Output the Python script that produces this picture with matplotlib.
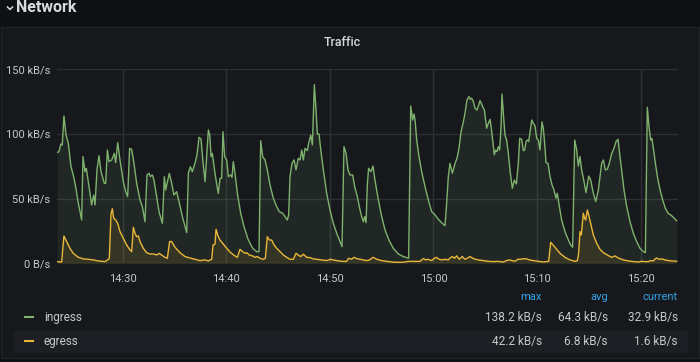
import pandas as pd
import matplotlib
matplotlib.use("Agg")
import matplotlib.pyplot as plt
import matplotlib.dates as mdates
from matplotlib.patches import Rectangle
from matplotlib.lines import Line2D

plt.rcParams['font.family'] = ['Roboto', 'DejaVu Sans']

# minutes after 14:20 and kB/s
start = pd.Timestamp('2021-01-01 14:20:00')

ingress_min = [
    3.66, 3.85, 4.04, 4.17, 4.33, 4.53, 4.75, 5.01, 5.23, 5.46, 5.72, 6.04, 6.17, 6.36, 6.49,
    6.68, 7.00, 7.20, 7.33, 7.52, 7.71, 7.91, 8.23, 8.36, 8.52, 8.68, 8.94, 9.19, 9.32, 9.52,
    9.74, 10.06, 10.29, 10.48, 10.67, 10.87, 11.09, 11.35, 11.67, 11.90, 12.15, 12.35, 12.54,
    12.67, 12.86, 13.02, 13.28, 13.51, 13.83, 14.02, 14.15, 14.25, 14.50, 14.73, 14.95, 15.21,
    15.44, 15.76, 16.02, 16.18, 16.34, 16.53, 16.72, 16.98, 17.17, 17.37, 17.56, 17.75, 17.95,
    18.14, 18.27, 18.40, 18.53, 18.65, 18.82, 18.91, 19.14, 19.23, 19.39, 19.55, 19.68, 19.84,
    20.04, 20.20, 20.42, 20.55, 20.68, 20.84, 21.07, 21.39, 21.71, 22.13, 22.55, 22.93, 23.16,
    23.32, 23.51, 23.74, 23.96, 24.22, 24.54, 24.86, 25.12, 25.44, 25.67, 25.89, 26.02, 26.15,
    26.34, 26.54, 26.73, 26.95, 27.12, 27.28, 27.44, 27.60, 27.82, 27.95, 28.15, 28.31, 28.50,
    28.66, 28.79, 28.95, 29.14, 29.37, 29.69, 30.01, 30.33, 30.66, 30.98, 31.17, 31.36, 31.56,
    31.75, 31.94, 32.20, 32.39, 32.65, 32.91, 33.07, 33.23, 33.36, 33.49, 33.62, 33.74, 33.97,
    34.16, 34.35, 34.68, 35.00, 35.32, 35.70, 36.12, 36.61, 37.09, 37.60, 37.80, 37.99, 38.12,
    38.22, 38.38, 38.60, 38.86, 39.18, 39.50, 39.82, 40.08, 40.47, 40.85, 41.11, 41.27, 41.43,
    41.59, 41.82, 42.08, 42.27, 42.46, 42.66, 42.85, 43.04, 43.23, 43.43, 43.56, 43.69, 43.85,
    44.01, 44.20, 44.33, 44.49, 44.72, 44.91, 45.13, 45.29, 45.46, 45.62, 45.75, 45.87, 46.00,
    46.13, 46.26, 46.39, 46.52, 46.61, 46.74, 46.90, 47.06, 47.22, 47.42, 47.61, 47.80, 48.00,
    48.19, 48.32, 48.51, 48.67, 48.80, 48.93, 49.06, 49.19, 49.32, 49.48, 49.64, 49.80, 49.96,
    50.12, 50.28, 50.47, 50.60, 50.73, 50.86, 51.05, 51.25, 51.44, 51.63, 51.83, 51.95, 52.15,
    52.37, 52.69, 53.02, 53.24, 53.43, 53.63, 53.82, 53.98, 54.14, 54.30, 54.53, 54.72, 54.98,
    55.17, 55.43, 55.66, 55.91, 56.07, 56.23, 56.40, 56.59, 56.78, 56.97, 57.20, 57.42, 57.62,
    57.81, 58.00, 58.20, 58.39, 58.65, 58.97, 59.29, 59.61, 59.93, 60.26, 60.45, 60.64, 60.80,
    60.96, 61.09, 61.22, 61.42, 61.61, 61.87, 62.12, 62.38, 62.64, 62.90, 63.15, 63.47,
]
ingress_kbs = [
    85.6, 86.3, 92.3, 91.5, 113.9, 99.2, 92.8, 74.7, 68.3, 59.3, 46.4, 33.5, 82.5, 70.9, 73.4,
    63.1, 45.1, 52.8, 45.1, 72.2, 83.2, 70.9, 61.8, 61.8, 87.6, 78.6, 79.9, 85.0, 77.8, 93.3,
    79.9, 63.1, 55.4, 51.5, 88.9, 88.1, 77.3, 61.8, 49.0, 43.8, 32.2, 68.3, 69.6,
    67.0, 68.3, 64.4, 51.5, 39.9, 30.9, 67.0, 56.7, 60.6, 69.6, 61.8, 52.8, 55.4,
    47.7, 36.1, 28.3, 23.7, 69.6, 74.7, 70.9, 77.3, 83.8, 97.4, 96.1, 78.6, 63.1,
    87.6, 103.1, 99.2, 82.5, 85.0, 74.7, 69.6, 58.0, 54.1, 65.7, 65.7, 101.8, 82.5,
    79.9, 67.0, 68.3, 66.5, 78.6, 69.6, 54.1, 38.7, 28.3, 18.0, 11.6, 9.0, 9.0,
    94.8, 82.5, 79.9, 72.2, 60.6, 50.3, 43.8, 39.9, 38.7, 36.1, 33.5, 37.4, 67.0,
    77.3, 79.9, 72.2, 81.2, 79.9, 87.6, 79.9, 88.9, 87.1, 92.8, 99.2, 91.5, 138.2,
    118.5, 100.0, 100.0, 86.3, 72.2, 54.1, 41.2, 30.9, 23.2, 16.8, 12.9, 90.2, 85.0,
    72.2, 68.3, 68.3, 59.3, 51.5, 41.2, 36.1, 32.2, 36.1, 31.4, 61.8, 73.4, 70.9,
    75.2, 64.4, 49.0, 36.1, 25.8, 18.0, 11.6, 7.2, 5.2, 3.9, 121.6, 110.8, 115.4,
    110.8, 95.3, 82.5, 70.9, 59.3, 49.0, 39.9, 38.1, 34.0, 30.9, 29.1, 46.4, 67.0,
    77.3, 69.6, 77.3, 81.2, 88.9, 101.8, 108.2, 116.0, 126.3, 128.9, 126.8, 127.6, 125.0,
    119.8, 118.5, 121.6, 125.8, 121.6, 118.5, 104.4, 108.2, 111.3, 101.8, 92.8, 83.8, 87.6,
    86.3, 90.2, 87.6, 105.7, 130.9, 116.0, 99.2, 95.3, 85.0, 69.6, 58.0, 64.4, 61.3,
    77.3, 96.6, 95.9, 87.1, 87.6, 94.1, 95.3, 94.1, 101.8, 110.8, 108.2, 106.2, 96.6,
    95.3, 87.6, 109.3, 104.4, 92.8, 77.8, 77.3, 67.0, 60.6, 56.7, 50.3, 54.1, 43.8,
    33.5, 24.5, 18.0, 14.2, 12.4, 95.3, 87.6, 75.2, 82.5, 72.2, 63.1, 54.6, 67.5,
    64.4, 54.1, 47.7, 56.7, 67.0, 77.3, 79.9, 72.2, 72.7, 77.3, 85.0, 88.9, 94.1,
    95.9, 82.5, 69.6, 56.7, 43.8, 32.2, 23.2, 16.8, 11.6, 9.0, 8.2, 120.6, 105.7,
    95.3, 96.6, 88.9, 77.3, 67.0, 56.7, 49.0, 42.5, 38.7, 37.4, 35.6, 32.9,
]

egress_min = [
    3.66, 4.11, 4.33, 4.59, 4.91, 5.23, 5.72, 6.20, 6.68, 7.17, 7.65, 8.29, 8.55, 8.71, 8.87,
    9.00, 9.13, 9.32, 9.52, 9.74, 10.06, 10.38, 10.71, 10.87, 11.03, 11.19, 11.35, 11.51, 11.67,
    11.99, 12.31, 12.64, 12.96, 13.28, 13.51, 13.76, 14.08, 14.31, 14.53, 14.73, 15.05, 15.53,
    16.02, 16.50, 16.98, 17.46, 17.95, 18.27, 18.46, 18.59, 18.72, 18.91, 19.01, 19.20, 19.39,
    19.65, 20.04, 20.42, 20.84, 21.07, 21.32, 21.58, 21.81, 21.97, 22.22, 22.55, 22.77, 23.00,
    23.25, 23.58, 23.77, 23.96, 24.16, 24.38, 24.61, 24.86, 25.19, 25.51, 25.83, 26.15, 26.47,
    26.73, 26.95, 27.18, 27.44, 27.76, 28.08, 28.40, 28.72, 29.21, 29.69, 30.08, 30.33, 30.66,
    31.14, 31.62, 31.81, 32.10, 32.33, 32.59, 32.91, 33.23, 33.55, 33.87, 33.97, 34.19, 34.51,
    35.00, 35.64, 36.28, 36.93, 37.25, 37.57, 38.22, 38.70, 38.92, 39.05, 39.24, 39.44, 39.66,
    39.82, 40.08, 40.27, 40.47, 40.79, 41.11, 41.43, 41.59, 41.82, 42.01, 42.24, 42.49, 42.78,
    43.04, 43.30, 43.52, 43.85, 44.33, 44.81, 45.29, 45.78, 46.26, 46.74, 47.06, 47.22, 47.48,
    47.71, 47.93, 48.13, 48.35, 48.58, 48.93, 49.25, 49.64, 50.12, 50.60, 50.92, 51.12, 51.31,
    51.57, 51.89, 52.21, 52.69, 53.18, 53.66, 53.89, 54.01, 54.14, 54.27, 54.46, 54.59, 54.69,
    54.85, 54.98, 55.17, 55.43, 55.75, 56.07, 56.40, 56.78, 57.20, 57.52, 57.84, 58.33, 58.81,
    59.29, 59.77, 60.10, 60.42, 60.74, 60.96, 61.22, 61.42, 61.54, 61.74, 62.03, 62.35, 62.67,
    62.99, 63.47,
]
egress_kbs = [
    1.3, 1.0, 21.1, 16.8, 11.6, 7.7, 4.6, 3.4, 3.1, 2.6, 1.8, 1.3, 2.6, 3.9, 38.1,
    42.2, 34.8, 33.5, 30.9, 24.5, 19.3, 14.2, 10.3, 9.0, 27.8, 23.2, 20.6, 21.1, 16.8,
    11.6, 8.2, 7.2, 7.2, 6.4, 7.7, 6.4, 4.6, 3.9, 16.8, 16.8, 12.4, 8.2,
    5.2, 4.1, 3.1, 2.1, 2.6, 1.8, 2.6, 3.1, 14.2, 14.7, 26.3, 21.1, 18.0,
    15.5, 11.6, 8.2, 5.7, 4.6, 10.8, 9.0, 7.7, 8.2, 6.4, 5.7, 4.6, 5.2,
    3.9, 3.1, 3.9, 20.6, 18.0, 18.0, 14.2, 11.6, 9.0, 6.4, 4.6, 3.1, 3.1,
    7.7, 6.4, 5.2, 7.0, 4.6, 4.4, 3.4, 3.1, 2.6, 2.1, 3.1, 2.6, 2.1,
    1.5, 1.5, 3.9, 3.1, 4.6, 3.6, 3.1, 2.6, 2.1, 2.6, 3.6, 4.6, 3.1,
    2.1, 1.3, 0.8, 0.8, 1.0, 1.5, 1.5, 1.5, 3.1, 3.6, 2.6, 3.1, 2.6,
    2.1, 3.9, 4.6, 3.4, 2.6, 3.1, 2.6, 4.1, 5.2, 3.9, 5.7, 3.1, 5.2,
    3.1, 4.1, 5.2, 3.6, 2.6, 2.1, 1.5, 1.3, 1.5, 1.0, 2.1, 2.6, 2.3,
    1.8, 1.8, 3.1, 3.1, 3.4, 3.6, 2.6, 2.1, 1.5, 1.0, 1.3, 1.5, 16.2,
    13.9, 10.8, 7.7, 4.6, 2.6, 1.5, 2.1, 7.7, 24.5, 21.9, 38.7, 34.8, 33.5,
    41.2, 37.4, 30.9, 21.9, 15.5, 10.8, 8.2, 6.4, 4.6, 5.7, 4.1, 2.6, 1.8,
    1.3, 1.0, 1.5, 1.3, 1.3, 2.1, 1.8, 3.6, 4.1, 3.1, 3.4, 2.6, 2.1,
    1.8, 1.6,
]

series_names = ['ingress', 'egress']
series_colors = ['#7eb26d', '#eab839']
stat_names = ['max', 'avg', 'current']
stat_values = [
    ['138.2 kB/s', '64.3 kB/s', '32.9 kB/s'],
    ['42.2 kB/s', '6.8 kB/s', '1.6 kB/s'],
]
y_ticks = [0, 50, 100, 150]

page_bg = '#0f1013'
panel_bg = '#17181c'
text_col = '#c7c8cc'

fig = plt.figure(figsize=(7, 3.62), dpi=100, facecolor=page_bg)

# panel and the highlighted legend row, kept behind the axes
fig.patches.append(Rectangle((1 / 700, 1 - 358 / 362), 698 / 700, 331 / 362,
                             transform=fig.transFigure, facecolor=panel_bg,
                             edgecolor='#202227', linewidth=1, zorder=-2))
fig.patches.append(Rectangle((14 / 700, 1 - 353 / 362), 674 / 700, 22 / 362,
                             transform=fig.transFigure, facecolor='#1e1f24',
                             edgecolor='none', zorder=-1))

# row header
fig.add_artist(Line2D([7.5 / 700, 10 / 700, 12.5 / 700],
                      [1 - 7 / 362, 1 - 9.5 / 362, 1 - 7 / 362],
                      transform=fig.transFigure, color='#d8d9da', lw=1.1))
fig.text(16 / 700, 1 - 8 / 362, 'Network', color='#d8d9da', fontsize=11.5,
         fontweight='bold', va='center', ha='left')
fig.text(342 / 700, 1 - 42 / 362, 'Traffic', color='#d8d9da', fontsize=9,
         fontweight='medium', va='center', ha='center')

ax = fig.add_axes([57 / 700, 1 - 263.3 / 362, 621 / 700, 194 / 362])
ax.set_facecolor('none')

series = [(ingress_min, ingress_kbs), (egress_min, egress_kbs)]
for (mins, vals), name, col in zip(series, series_names, series_colors):
    t = start + pd.to_timedelta(mins, unit='m')
    ax.fill_between(t, vals, 0, color=col, alpha=0.1, linewidth=0, zorder=2)
    ax.plot(t, vals, color=col, lw=1, zorder=3, label=name)

ax.set_ylim(0, 150)
ax.set_xlim(start + pd.Timedelta(minutes=3.66), start + pd.Timedelta(minutes=63.6))
ax.set_yticks(y_ticks)
ax.set_yticklabels(['0 B/s' if v == 0 else f'{v} kB/s' for v in y_ticks])
ax.xaxis.set_major_locator(mdates.MinuteLocator(byminute=[0, 10, 20, 30, 40, 50]))
ax.xaxis.set_major_formatter(mdates.DateFormatter('%H:%M'))
ax.grid(True, color='#2e3035', lw=1, zorder=1)
ax.set_axisbelow(True)
for s in ax.spines.values():
    s.set_visible(False)
ax.tick_params(length=0, colors=text_col, labelsize=8)
ax.tick_params(axis='y', pad=5)
ax.tick_params(axis='x', pad=8)

# legend table
stat_right = [542, 608, 678]
for name, x in zip(stat_names, stat_right):
    fig.text(x / 700, 1 - 297 / 362, name, color='#33a2e5', fontsize=8,
             ha='right', va='center')
row_y = [317, 341]
for i, name in enumerate(series_names):
    y = 1 - row_y[i] / 362
    fig.add_artist(Line2D([25 / 700, 33 / 700], [y, y], transform=fig.transFigure,
                          color=series_colors[i], lw=1.5))
    fig.text(44 / 700, y, name, color=text_col, fontsize=8.5, ha='left', va='center')
    for val, x in zip(stat_values[i], stat_right):
        fig.text(x / 700, y, val, color=text_col, fontsize=8.5, ha='right', va='center')

fig.savefig('out.png', dpi=100, facecolor=page_bg)
